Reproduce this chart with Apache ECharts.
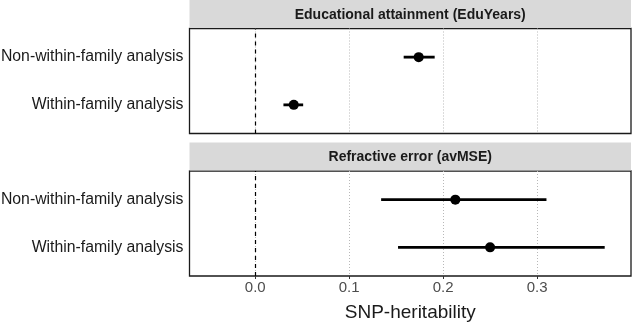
<!DOCTYPE html>
<html>
<head>
<meta charset="utf-8">
<script src="https://cdn.jsdelivr.net/npm/echarts@6/dist/echarts.min.js"></script>
<style>
html,body{margin:0;padding:0;background:#fff;}
#chart{width:632px;height:324px;}
</style>
</head>
<body>
<div id="chart"></div>
<script>
const categories = ['Non-within-family analysis', 'Within-family analysis'];
const panels = ['Educational attainment (EduYears)', 'Refractive error (avMSE)'];
const eduEstimate = [0.174, 0.041];
const eduLower = [0.158, 0.030];
const eduUpper = [0.191, 0.051];
const refEstimate = [0.213, 0.250];
const refLower = [0.134, 0.152];
const refUpper = [0.310, 0.372];
const xTicks = [0, 0.1, 0.2, 0.3];
const xLabels = ['0.0', '0.1', '0.2', '0.3'];
const xTitle = 'SNP-heritability';
const refLine = 0;

// y position of each category (first category on top)
const yPos = categories.map((c, i) => categories.length - i);

const panelData = [
  {est: eduEstimate, lo: eduLower, hi: eduUpper},
  {est: refEstimate, lo: refLower, hi: refUpper}
];

const FONT = '"Liberation Sans", Arial, sans-serif';
const gridLeft = 189.5, gridW = 441.5, gridH = 105;
const gridTops = [28.5, 171];
const stripH = 28;

const chart = echarts.init(document.getElementById('chart'), null, {renderer: 'canvas'});

const grids = gridTops.map(t => ({
  left: gridLeft, top: t, width: gridW, height: gridH,
  show: true, borderColor: '#1a1a1a', borderWidth: 1.3, backgroundColor: '#fff',
  containLabel: false, outerBoundsMode: 'none'
}));

const xAxes = gridTops.map((t, k) => ({
  type: 'value', gridIndex: k, min: -0.07, max: 0.4,
  axisLine: {show: false},
  axisTick: {show: k === 1, length: 3, lineStyle: {color: '#333', width: 1}, customValues: xTicks},
  axisLabel: {
    show: k === 1, customValues: xTicks, margin: 4,
    fontFamily: FONT, fontSize: 15, color: '#4d4d4d',
    formatter: v => { const i = xTicks.findIndex(t => Math.abs(t - v) < 1e-9); return i >= 0 ? xLabels[i] : ''; }
  },
  splitLine: {show: true, lineStyle: {color: '#b8b8b8', width: 1, type: [1, 2]}},
  name: k === 1 ? xTitle : '', nameLocation: 'middle', nameGap: 27,
  nameTextStyle: {fontFamily: FONT, fontSize: 19, color: '#1a1a1a'}
}));

const yAxes = gridTops.map((t, k) => ({
  type: 'value', gridIndex: k, min: 0.4, max: 2.6,
  axisLine: {show: false}, axisTick: {show: false}, splitLine: {show: false},
  axisLabel: {
    customValues: yPos, margin: 6, fontFamily: FONT, fontSize: 15.8, color: '#1a1a1a',
    formatter: v => { const i = yPos.findIndex(p => Math.abs(p - v) < 1e-9); return i >= 0 ? categories[i] : ''; }
  }
}));

const series = [];
panelData.forEach((p, k) => {
  series.push({
    type: 'custom', xAxisIndex: k, yAxisIndex: k, z: 3,
    data: categories.map((c, i) => [p.lo[i], p.hi[i], yPos[i]]),
    renderItem: (params, api) => {
      const a = api.coord([api.value(0), api.value(2)]);
      const b = api.coord([api.value(1), api.value(2)]);
      return {type: 'line', shape: {x1: a[0], y1: a[1], x2: b[0], y2: b[1]},
        style: {stroke: '#000', lineWidth: 2.8}};
    },
    silent: true
  });
  series.push({
    type: 'scatter', xAxisIndex: k, yAxisIndex: k, z: 4,
    symbolSize: 10, itemStyle: {color: '#000', opacity: 1},
    data: categories.map((c, i) => [p.est[i], yPos[i]]),
    markLine: {
      silent: true, symbol: 'none', label: {show: false},
      lineStyle: {color: '#000', width: 1.2, type: [4, 4]},
      data: [{xAxis: refLine}], animation: false
    },
    silent: true
  });
});

const graphics = [];
gridTops.forEach((t, k) => {
  graphics.push({type: 'rect', left: gridLeft, top: t - stripH - 0.5,
    shape: {x: 0, y: 0, width: gridW, height: stripH}, style: {fill: '#d9d9d9'}, z: 1});
  graphics.push({type: 'text', x: gridLeft + gridW / 2, y: t - stripH / 2 + 0.5,
    style: {text: panels[k], fontFamily: FONT, fontSize: 14, fontWeight: 'bold', fill: '#1a1a1a',
      align: 'center', verticalAlign: 'middle'}, z: 2});
});

chart.setOption({
  animation: false,
  backgroundColor: '#fff',
  grid: grids, xAxis: xAxes, yAxis: yAxes, series: series,
  graphic: graphics
});
</script>
</body>
</html>
